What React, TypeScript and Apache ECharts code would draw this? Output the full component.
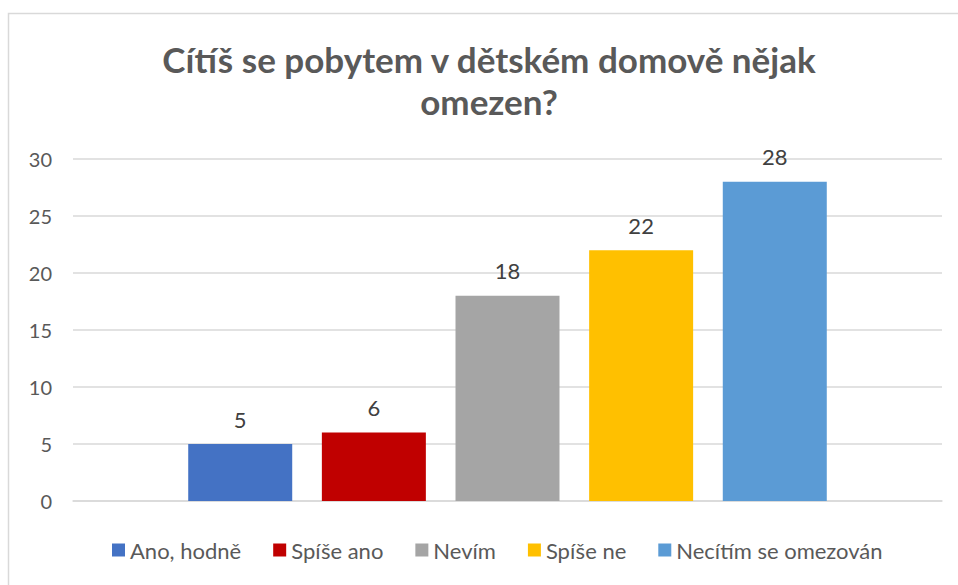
import React, { useEffect, useRef } from "react";
import * as echarts from "echarts";

const titleText = "Cítíš se pobytem v dětském domově nějak\nomezen?";
const seriesNames = ["Ano, hodně", "Spíše ano", "Nevím", "Spíše ne", "Necítím se omezován"];
const seriesValues = [5, 6, 18, 22, 28];
const seriesColors = ["#4472C4", "#C00000", "#A5A5A5", "#FFC000", "#5B9BD5"];
const categories = [""];

export default function App() {
  const ref = useRef<HTMLDivElement>(null);
  useEffect(() => {
    if (!ref.current) return;
    const chart = echarts.init(ref.current, undefined, { renderer: "svg" });
    const font = "Lato, 'Liberation Sans', sans-serif";
    chart.setOption({
      animation: false,
      backgroundColor: "#ffffff",
      textStyle: { fontFamily: font },
      graphic: [
        {
          type: "rect",
          shape: { x: 8.5, y: 13.5, width: 1000, height: 1000 },
          style: { fill: "none", stroke: "#d9d9d9", lineWidth: 1.5 },
          silent: true,
          z: 100,
        },
        {
          type: "text",
          x: 489,
          y: 38,
          style: {
            text: titleText,
            align: "center",
            verticalAlign: "top",
            fontFamily: font,
            fontSize: 35,
            fontWeight: "bold",
            fill: "#595959",
            lineHeight: 42,
          },
        },
      ],
      legend: {
        bottom: 19,
        left: 107,
        itemWidth: 13,
        itemHeight: 13,
        itemGap: 32,
        icon: "rect",
        textStyle: { fontFamily: font, fontSize: 22, color: "#595959", padding: [0, 0, 0, 0] },
        data: seriesNames,
      },
      grid: { left: 73, right: 16, top: 159, bottom: 84 },
      xAxis: {
        type: "category",
        data: categories,
        axisLine: { lineStyle: { color: "#d9d9d9", width: 1.5 } },
        axisTick: { show: false },
        axisLabel: { show: false },
      },
      yAxis: {
        type: "value",
        min: 0,
        max: 30,
        interval: 5,
        axisLine: { show: false },
        axisTick: { show: false },
        splitLine: { lineStyle: { color: "#d9d9d9", width: 1.5 } },
        axisLabel: { fontFamily: font, fontSize: 20, color: "#595959", margin: 21 },
      },
      series: seriesNames.map((name, i) => ({
        name,
        type: "bar",
        data: [seriesValues[i]],
        barWidth: 104,
        barGap: "28.5%",
        itemStyle: { color: seriesColors[i] },
        label: {
          show: true,
          position: "top",
          distance: 14,
          fontFamily: font,
          fontSize: 22,
          color: "#404040",
        },
      })),
    });
    return () => chart.dispose();
  }, []);
  return (
    <div
      ref={ref}
      style={{ position: "fixed", left: 0, top: 0, width: 958, height: 585 }}
    />
  );
}
